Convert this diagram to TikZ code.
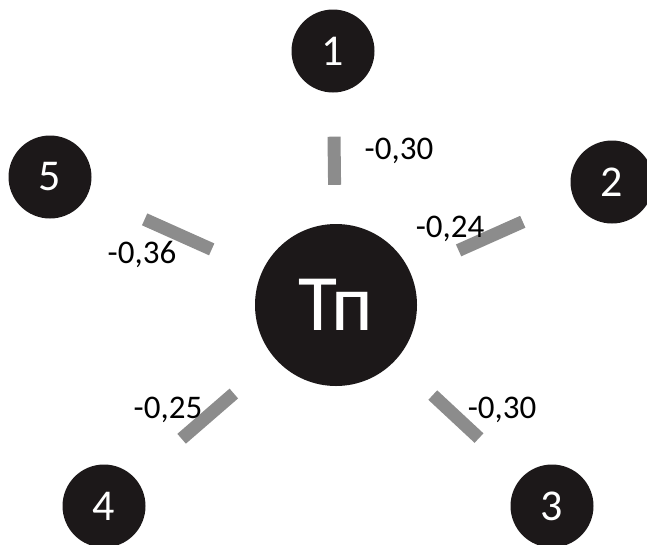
\documentclass[tikz,border=0pt]{standalone}
\usepackage{fontspec}
\setmainfont{Carlito}

\definecolor{dark}{RGB}{28,24,25}
\definecolor{barg}{RGB}{140,140,140}

\begin{document}
\begin{tikzpicture}[x=1pt, y=-1pt, every node/.style={align=center, inner sep=0pt}]
    % 样式
    \tikzstyle{big} = [circle, fill=dark, text=white, minimum size=162pt, font=\fontsize{80}{80}\selectfont]
    \tikzstyle{small} = [circle, fill=dark, text=white, minimum size=83pt, font=\fontsize{44}{44}\selectfont]
    \tikzstyle{weight} = [text=black, font=\fontsize{33}{33}\selectfont]
    \tikzstyle{bar} = [line width=13pt, draw=barg]

    \useasboundingbox (0,0) rectangle (647,544);

    % 圆
    \node[big] (tp) at (336,305) {Тп};
    \node[small] (n1) at (333,51) {1};
    \node[small] (n2) at (612,182) {2};
    \node[small] (n3) at (552,506) {3};
    \node[small] (n4) at (104,506) {4};
    \node[small] (n5) at (50,177) {5};

    % 权重条
    \draw[bar, shorten <=39pt, shorten >=44pt] (tp) -- (n1);
    \draw[bar, shorten <=53pt, shorten >=56pt] (tp) -- (n2);
    \draw[bar, shorten <=51pt, shorten >=58pt] (tp) -- (n3);
    \draw[bar, shorten <=54pt, shorten >=61pt] (tp) -- (n4);
    \draw[bar, shorten <=55pt, shorten >=62pt] (tp) -- (n5);

    % 数值
    \node[weight] (w1) at (399,151) {-0,30};
    \node[weight] (w2) at (450,229) {-0,24};
    \node[weight] (w3) at (502,410) {-0,30};
    \node[weight] (w4) at (168,410) {-0,25};
    \node[weight] (w5) at (142,254) {-0,36};
\end{tikzpicture}
\end{document}
